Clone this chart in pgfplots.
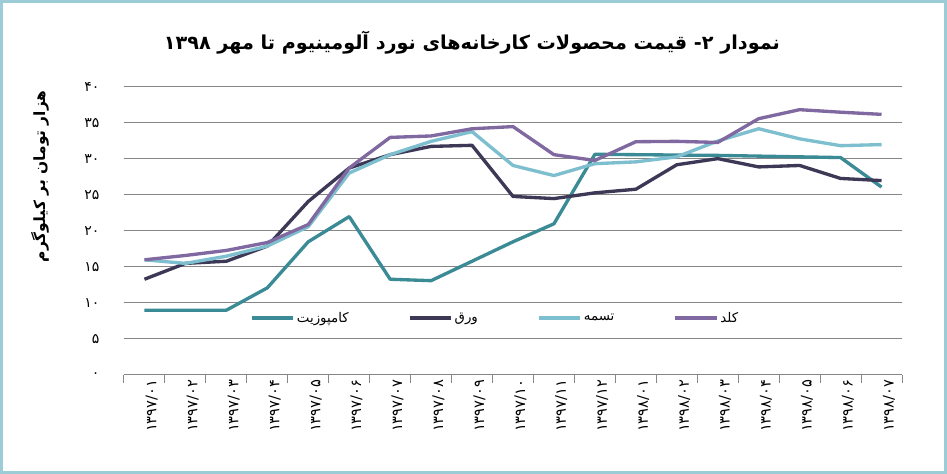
\documentclass[border=0pt]{standalone}
\usepackage{fontspec}
\usepackage{pgfplots}
\pgfplotsset{compat=1.18}
\TeXXeTstate=1
\newfontfamily\arabicfont[Script=Arabic]{DejaVu Sans}
\definecolor{comp}{HTML}{3B8B96}
\definecolor{sheet}{HTML}{3C3855}
\definecolor{strip}{HTML}{7DBECF}
\definecolor{cold}{HTML}{8068A0}
\definecolor{gridc}{RGB}{134,134,134}
\definecolor{borderc}{RGB}{156,205,214}
\pgfplotstableread{
x comp sheet strip cold
0 9.0 13.3 16.0 16.0
1 9.0 15.5 15.5 16.6
2 9.0 15.8 16.5 17.3
3 12.1 17.9 17.9 18.4
4 18.5 24.1 20.6 20.9
5 22.0 28.75 28.05 28.75
6 13.3 30.6 30.6 33.0
7 13.1 31.75 32.45 33.2
8 15.8 31.9 33.8 34.2
9 18.5 24.8 29.1 34.5
10 21.0 24.5 27.7 30.6
11 30.65 25.3 29.35 29.8
12 30.6 25.8 29.6 32.4
13 30.55 29.2 30.3 32.45
14 30.5 30.05 32.5 32.3
15 30.4 28.9 34.2 35.6
16 30.3 29.1 32.8 36.85
17 30.2 27.3 31.85 36.5
18 26.1 27.0 32.0 36.2
}\datatable
\begin{document}
\begin{tikzpicture}[x=1pt,y=1pt]
\useasboundingbox (0pt,0pt) rectangle (710.25pt,355.5pt);
\fill[white] (0pt,0pt) rectangle (710.25pt,355.5pt);
\draw[borderc, line width=2.4pt] (1.2pt,1.2pt) rectangle (709.05pt,354.3pt);
\node[font=\arabicfont\bfseries\fontsize{14.4}{17}\selectfont] at (354pt,323.25pt)
  {\beginR نمودار ۲- قیمت محصولات کارخانه‌های نورد آلومینیوم تا مهر \beginL ۱۳۹۸\endL{}\endR};
\begin{axis}[
  at={(93pt,74.25pt)}, anchor=south west,
  scale only axis, width=583.5pt, height=216pt,
  xmin=-0.5, xmax=18.5, ymin=0, ymax=40,
  axis x line*=bottom, axis y line*=left,
  x axis line style={draw=gridc, line width=0.75pt},
  y axis line style={draw=none},
  xtick={0,...,18},
  xticklabels={۱۳۹۷/۰۱,۱۳۹۷/۰۲,۱۳۹۷/۰۳,۱۳۹۷/۰۴,۱۳۹۷/۰۵,۱۳۹۷/۰۶,۱۳۹۷/۰۷,۱۳۹۷/۰۸,۱۳۹۷/۰۹,۱۳۹۷/۱۰,۱۳۹۷/۱۱,۱۳۹۷/۱۲,۱۳۹۸/۰۱,۱۳۹۸/۰۲,۱۳۹۸/۰۳,۱۳۹۸/۰۴,۱۳۹۸/۰۵,۱۳۹۸/۰۶,۱۳۹۸/۰۷},
  minor xtick={-0.5,0.5,...,18.5},
  major tick length=0pt, minor tick length=6pt, tick align=outside,
  every minor tick/.append style={draw=gridc, line width=0.75pt},
  ytick={0,5,...,40},
  yticklabels={۰,۵,۱۰,۱۵,۲۰,۲۵,۳۰,۳۵,۴۰},
  ytick style={draw=none},
  ymajorgrids, grid style={draw=gridc, line width=0.75pt},
  x tick label style={rotate=90, anchor=east, font=\arabicfont\fontsize{11}{13}\selectfont, yshift=-5.5pt},
  y tick label style={anchor=east, font=\arabicfont\fontsize{10.5}{12}\selectfont, xshift=-15pt},
  ylabel={\beginR هزار تومان بر کیلوگرم\endR},
  ylabel style={at={(axis description cs:-0.108,0.69)}, anchor=center, font=\arabicfont\bfseries\fontsize{11.6}{13}\selectfont},
  legend columns=4,
  legend style={at={(axis description cs:0.162,0.198)}, anchor=west, draw=none, fill=none, inner sep=0pt,
    font=\arabicfont\fontsize{10}{12}\selectfont,
    nodes={inner sep=1.5pt},
    /tikz/every even column/.append style={column sep=43pt}},
  legend image code/.code={\draw[#1] (0pt,0pt) -- (31pt,0pt);},
  every axis plot/.append style={line width=2.5pt, line join=round},
]
\addplot[comp] table[x=x,y=comp]{\datatable};
\addlegendentry{\beginR کامپوزیت\endR}
\addplot[sheet] table[x=x,y=sheet]{\datatable};
\addlegendentry{\beginR ورق\endR}
\addplot[strip] table[x=x,y=strip]{\datatable};
\addlegendentry{\beginR تسمه\endR}
\addplot[cold] table[x=x,y=cold]{\datatable};
\addlegendentry{\beginR کلد\endR}
\end{axis}
\end{tikzpicture}
\end{document}
